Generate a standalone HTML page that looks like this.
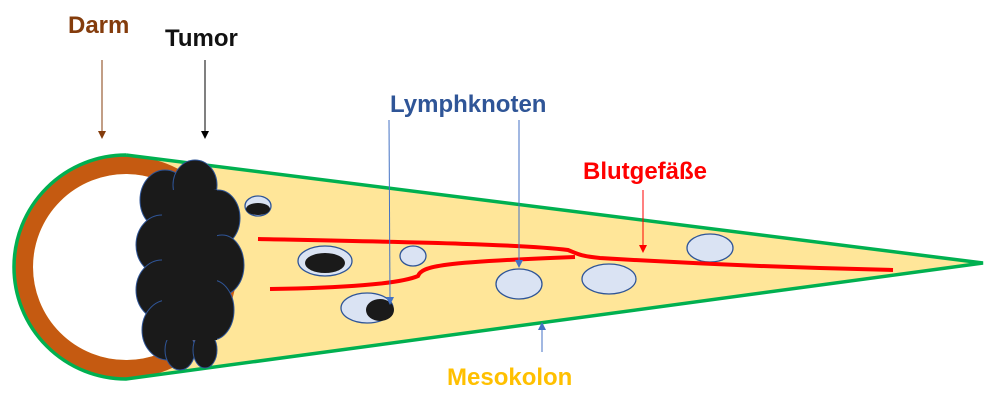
<!DOCTYPE html>
<html><head><meta charset="utf-8"><style>
html,body{margin:0;padding:0;background:#fff;}
svg{display:block;}
text{font-family:"Liberation Sans",sans-serif;font-weight:bold;font-size:24px;}
</style></head><body>
<svg width="989" height="406" viewBox="0 0 989 406" xmlns="http://www.w3.org/2000/svg">
<!-- wedge -->
<path d="M126,155 L983,263 L126,379 A112,112 0 0 1 126,155 Z" fill="#ffe699"/>
<circle cx="126" cy="267" r="93" fill="#fff"/>
<circle cx="126" cy="267" r="102" fill="none" stroke="#c55a11" stroke-width="18"/>
<path d="M126,155 L983,263 L126,379 A112,112 0 0 1 126,155" fill="none" stroke="#00b050" stroke-width="3.5"/>
<!-- tumor -->
<g fill="#1a1a1a" stroke="#2f5597" stroke-width="1">
<ellipse cx="165" cy="200" rx="25" ry="30"/>
<ellipse cx="195" cy="185" rx="22" ry="25"/>
<ellipse cx="218" cy="218" rx="22" ry="28"/>
<ellipse cx="162" cy="245" rx="26" ry="30"/>
<ellipse cx="222" cy="265" rx="22" ry="30"/>
<ellipse cx="162" cy="290" rx="26" ry="30"/>
<ellipse cx="212" cy="310" rx="22" ry="30"/>
<ellipse cx="168" cy="330" rx="26" ry="30"/>
<ellipse cx="180" cy="350" rx="15" ry="20"/>
<ellipse cx="205" cy="350" rx="12" ry="18"/>
</g>
<g fill="#1a1a1a"><rect x="162" y="190" width="55" height="150"/></g>
<!-- lymph nodes -->
<g fill="#dae3f3" stroke="#2f5597" stroke-width="1.3">
<ellipse cx="258" cy="206" rx="13" ry="10"/>
<ellipse cx="325" cy="261" rx="27" ry="15"/>
<ellipse cx="413" cy="256" rx="13" ry="10"/>
<ellipse cx="367" cy="308" rx="26" ry="15"/>
<ellipse cx="519" cy="284" rx="23" ry="15"/>
<ellipse cx="609" cy="279" rx="27" ry="15"/>
<ellipse cx="710" cy="248" rx="23" ry="14"/>
</g>
<g fill="#1a1a1a">
<ellipse cx="258" cy="209" rx="12" ry="6"/>
<ellipse cx="325" cy="263" rx="20" ry="10"/>
<ellipse cx="380" cy="310" rx="14" ry="11"/>
</g>
<!-- vessels -->
<g fill="none" stroke="#ff0000" stroke-width="4">
<path d="M258,239 C400,242 520,244 568,250 C578,254 580,256 600,258 C700,264 800,268 893,270"/>
<path d="M270,289 C340,288 400,284 418,276 C422,266 440,262 575,257"/>
</g>
<!-- arrows -->
<g stroke-width="1">
<line x1="102" y1="60" x2="102" y2="132" stroke="#843c0c"/>
<polygon points="98,131 106,131 102,139" fill="#843c0c"/>
<line x1="205" y1="60" x2="205" y2="132" stroke="#000"/>
<polygon points="201,131 209,131 205,139" fill="#000"/>
<line x1="389" y1="120" x2="390" y2="298" stroke="#4472c4"/>
<polygon points="386,297 394,297 390,305" fill="#4472c4"/>
<line x1="519" y1="120" x2="519" y2="261" stroke="#4472c4"/>
<polygon points="515,260 523,260 519,268" fill="#4472c4"/>
<line x1="643" y1="190" x2="643" y2="246" stroke="#ff0000"/>
<polygon points="639,245 647,245 643,253" fill="#ff0000"/>
<line x1="542" y1="352" x2="542" y2="329" stroke="#4472c4"/>
<polygon points="538,330 546,330 542,322" fill="#4472c4"/>
</g>
<text x="68" y="33" fill="#843c0c">Darm</text>
<text x="165" y="46" fill="#111">Tumor</text>
<text x="390" y="112" fill="#2f5597">Lymphknoten</text>
<text x="583" y="179" fill="#ff0000">Blutgefäße</text>
<text x="447" y="385" fill="#ffc000">Mesokolon</text>
</svg>
</body></html>
